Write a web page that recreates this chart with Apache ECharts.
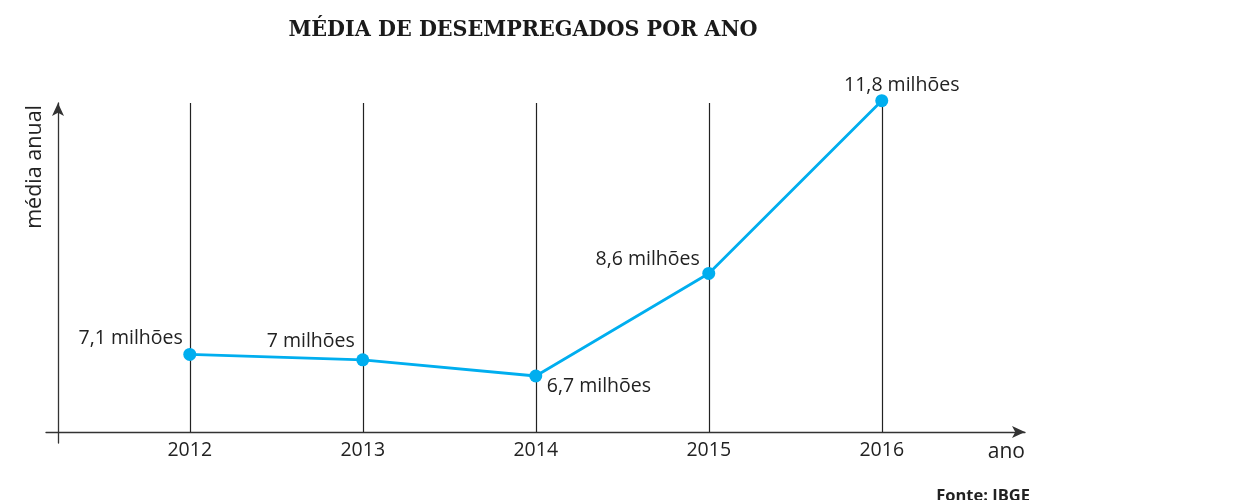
<!DOCTYPE html>
<html>
<head>
<meta charset="utf-8">
<script src="https://cdn.jsdelivr.net/npm/echarts@6/dist/echarts.min.js"></script>
<style>
  html, body { margin: 0; padding: 0; background: #fff; }
  #chart { width: 1254px; height: 500px; }
</style>
</head>
<body>
<div id="chart"></div>
<script>
// dados (IBGE)
const years = [2012, 2013, 2014, 2015, 2016];
const values = [7.1, 7.0, 6.7, 8.6, 11.8];
const valueLabels = ['7,1 milhões', '7 milhões', '6,7 milhões', '8,6 milhões', '11,8 milhões'];

const LINE_COLOR = '#00aeef';
const INK = '#222';
const FONT = '"Open Sans", Lato, sans-serif';

// escala: eixo x cruza em 5.663, topo das linhas em 11.757
const yMin = 5.459, yAxisCross = 5.663, yMax = 11.757;

// onde vai cada rótulo em relação ao ponto
const labelPlace = [
  { align: 'right', offset: [-7, -16] },
  { align: 'right', offset: [-8, -18] },
  { align: 'left', offset: [11, 10] },
  { align: 'right', offset: [-9, -14] },
  { align: 'center', offset: [20, -15] }
];

const seriesData = years.map((y, i) => ({
  value: [y, values[i]],
  label: {
    show: true,
    position: 'inside',
    align: labelPlace[i].align,
    verticalAlign: 'middle',
    offset: labelPlace[i].offset,
    formatter: valueLabels[i],
    color: INK,
    fontFamily: FONT,
    fontSize: 19.5
  }
}));

const gridLines = years.map(y => [
  { coord: [y, yAxisCross] },
  { coord: [y, yMax] }
]);

const chart = echarts.init(document.getElementById('chart'));
chart.setOption({
  animation: false,
  title: [
    {
      text: 'MÉDIA DE DESEMPREGADOS POR ANO',
      left: 518,
      textAlign: 'center',
      top: 14,
      textStyle: {
        fontFamily: '"DejaVu Serif Condensed", "DejaVu Serif", serif',
        fontWeight: 'bold',
        fontSize: 23,
        color: '#1a1a1a'
      }
    },
    {
      text: 'Fonte: IBGE',
      right: 219,
      top: 483,
      textStyle: {
        fontFamily: FONT,
        fontWeight: 'bold',
        fontSize: 16.5,
        color: INK
      }
    }
  ],
  grid: {
    left: 46,
    right: 229,
    top: 103,
    bottom: 57,
    outerBoundsMode: 'none'
  },
  xAxis: {
    type: 'value',
    min: 2011.169,
    max: 2016.828,
    offset: -11,
    name: 'ano',
    nameLocation: 'end',
    nameGap: 0,
    nameTextStyle: {
      align: 'right',
      verticalAlign: 'top',
      padding: [10, 0, 0, 0],
      fontFamily: FONT,
      fontSize: 21,
      color: INK
    },
    axisLine: {
      lineStyle: { color: '#333', width: 1.3 },
      symbol: ['none', 'arrow'],
      symbolSize: [9, 13],
      symbolOffset: [0, 0]
    },
    axisTick: { show: false },
    splitLine: { show: false },
    axisLabel: {
      customValues: years,
      formatter: v => String(v),
      margin: 8,
      fontFamily: FONT,
      fontSize: 19.5,
      color: INK
    }
  },
  yAxis: {
    type: 'value',
    min: yMin,
    max: yMax,
    offset: -12,
    name: 'média anual',
    nameLocation: 'end',
    nameRotate: 90,
    nameGap: -2,
    nameTextStyle: {
      align: 'right',
      verticalAlign: 'bottom',
      padding: [0, 0, 12, 0],
      fontFamily: FONT,
      fontSize: 21.5,
      color: INK
    },
    axisLine: {
      show: true,
      lineStyle: { color: '#333', width: 1.3 },
      symbol: ['none', 'arrow'],
      symbolSize: [9, 13],
      symbolOffset: [0, 0]
    },
    axisTick: { show: false },
    axisLabel: { show: false },
    splitLine: { show: false }
  },
  series: [
    {
      type: 'line',
      data: seriesData,
      clip: false,
      symbol: 'circle',
      symbolSize: 13,
      lineStyle: { color: LINE_COLOR, width: 2.8 },
      itemStyle: { color: LINE_COLOR },
      z: 5,
      markLine: {
        silent: true,
        symbol: 'none',
        label: { show: false },
        lineStyle: { color: INK, width: 1.2, type: 'solid' },
        data: gridLines,
        z: 1
      }
    }
  ]
});
</script>
</body>
</html>
